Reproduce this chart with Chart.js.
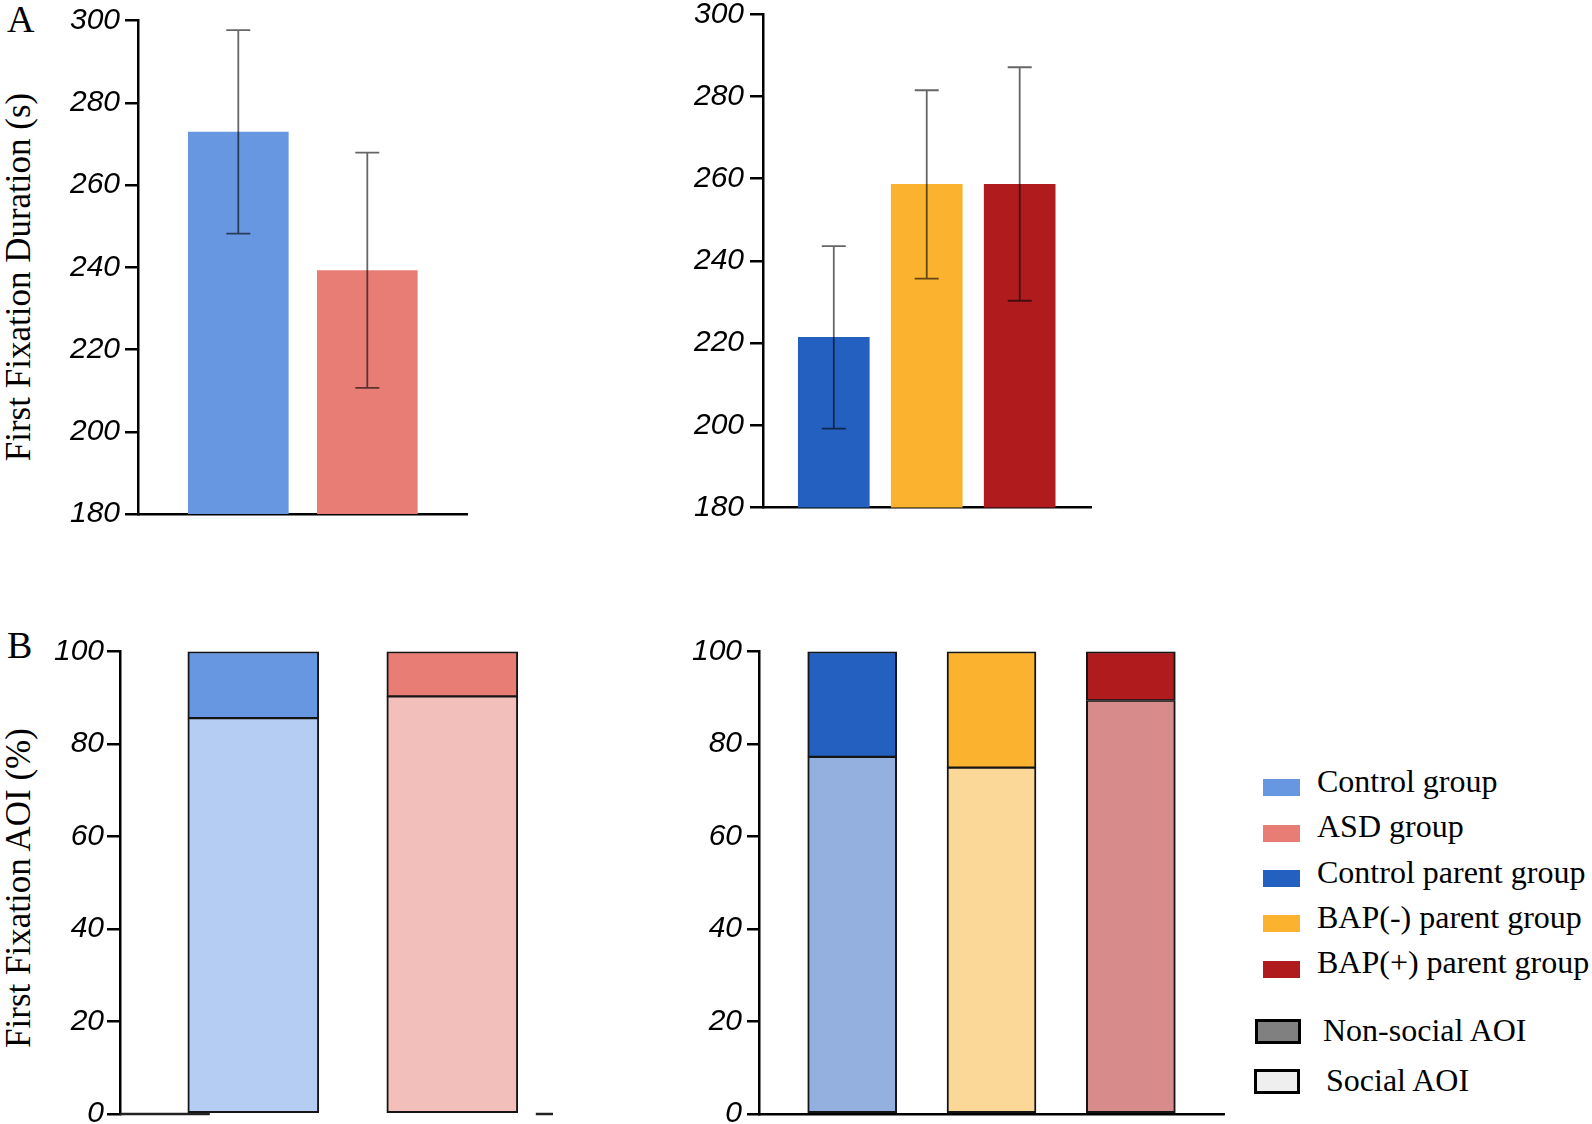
<!DOCTYPE html>
<html>
<head>
<meta charset="utf-8">
<script src="https://cdn.jsdelivr.net/npm/chart.js@4.4.1/dist/chart.umd.min.js"></script>
<style>
  html, body { margin: 0; padding: 0; background: #fff; }
  #page { position: relative; width: 1592px; height: 1124px; overflow: hidden; background: #fff; }
  canvas { position: absolute; }
  .serif { position: absolute; font-family: 'Liberation Serif', 'Times New Roman', serif; color: #000; white-space: nowrap; line-height: 1; }
  .ytitle { font-size: 35px; transform: translate(-50%, -50%) rotate(-90deg); }
  .panel { font-size: 38px; }
  .leg { font-size: 32px; }
  .sw { position: absolute; }
</style>
</head>
<body>
<div id="page">
  <div class="serif panel" style="left:7px; top:0px;">A</div>
  <div class="serif panel" style="left:7px; top:626px;">B</div>
  <div class="serif ytitle" style="left:18px; top:277px;">First Fixation Duration (s)</div>
  <div class="serif ytitle" style="left:18px; top:888px;">First Fixation AOI (%)</div>

  <canvas id="aLeft"  width="430" height="554" style="left:38px;  top:-10px;"></canvas>
  <canvas id="aRight" width="429" height="554" style="left:663px; top:-16px;"></canvas>
  <canvas id="bLeft"  width="533" height="523" style="left:20px;  top:621px;"></canvas>
  <canvas id="bRight" width="566" height="523" style="left:659px; top:621px;"></canvas>

  <div id="legend"></div>
</div>

<script>
// ---------------------------
// - data -
// ---------------------------
const groupsChild  = ['Control group', 'ASD group'];
const groupsParent = ['Control parent group', 'BAP(-) parent group', 'BAP(+) parent group'];

// A: first fixation duration (s), mean and error bar ends
const durChild     = [272.9, 239.2];
const durChildHi   = [297.7, 267.9];
const durChildLo   = [248.2, 210.7];
const durParent    = [221.4, 258.6, 258.6];
const durParentHi  = [243.6, 281.5, 287.1];
const durParentLo  = [199.2, 235.7, 230.3];

// B: first fixation AOI (%)
const socialChild     = [85.6, 90.3];
const nonSocialChild  = [14.4, 9.7];
const socialParent    = [77.2, 74.9, 89.4];
const nonSocialParent = [22.8, 25.1, 10.6];

const durTicks = { min: 180, max: 300, step: 20 };
const pctTicks = { min: 0, max: 100, step: 20 };

// colours
const darkChild   = ['#6897e2', '#e87d76'];
const lightChild  = ['#b5cdf3', '#f3bfbb'];
const darkParent  = ['#2360c0', '#fab22f', '#b01c1e'];
const lightParent = ['#93b0df', '#fcd898', '#d78b8b'];

// ------------
// - helpers  -
// ------------
const tickFont = { family: "'Liberation Sans', Arial, sans-serif", size: 30, style: 'italic' };

function pts(values) {
    return values.map(function (v, i) { return { x: i + 1, y: v }; });
}

function yScale(range, tickLen, pad) {
    return {
        min: range.min, max: range.max,
        afterFit: function (s) { s.width = 100; },
        ticks: { stepSize: range.step, font: tickFont, color: '#000', padding: pad },
        grid: { drawOnChartArea: false, drawTicks: true, tickLength: tickLen, color: '#000', lineWidth: 2.5 },
        border: { display: true, color: '#000', width: 2.5 }
    };
}

function xScale(min, max, showBorder, stacked) {
    return {
        type: 'linear', min: min, max: max, offset: false, stacked: stacked,
        afterFit: function (s) { s.height = 0; },
        ticks: { display: false },
        grid: { display: false, drawTicks: false },
        border: { display: showBorder, color: '#000', width: 2.5 }
    };
}

// draws mean +/- error using the y scale
const errorBars = {
    id: 'errorBars',
    afterDatasetsDraw(chart, args, opts) {
        if (!opts.hi) return;
        const ctx = chart.ctx, y = chart.scales.y;
        ctx.save();
        ctx.strokeStyle = 'rgba(0,0,0,0.6)';
        ctx.lineWidth = 1.8;
        chart.getDatasetMeta(0).data.forEach(function (bar, i) {
            const top = y.getPixelForValue(opts.hi[i]);
            const bot = y.getPixelForValue(opts.lo[i]);
            ctx.beginPath();
            ctx.moveTo(bar.x, top); ctx.lineTo(bar.x, bot);
            ctx.moveTo(bar.x - 12, top); ctx.lineTo(bar.x + 12, top);
            ctx.moveTo(bar.x - 12, bot); ctx.lineTo(bar.x + 12, bot);
            ctx.stroke();
        });
        ctx.restore();
    }
};

// the child panel in B has a broken baseline (gap between the bars)
const brokenBase = {
    id: 'brokenBase',
    afterDatasetsDraw(chart) {
        const ctx = chart.ctx, area = chart.chartArea;
        const bars = chart.getDatasetMeta(0).data;
        const first = bars[0], last = bars[bars.length - 1];
        ctx.save();
        ctx.strokeStyle = '#222';
        ctx.lineWidth = 2.5;
        ctx.beginPath();
        ctx.moveTo(area.left, area.bottom); ctx.lineTo(first.x - first.width / 2 + 22, area.bottom);
        ctx.moveTo(last.x + last.width / 2 + 18, area.bottom); ctx.lineTo(area.right, area.bottom);
        ctx.stroke();
        ctx.restore();
    }
};

const common = {
    responsive: false,
    animation: false,
    devicePixelRatio: 1,
    plugins: { legend: { display: false }, tooltip: { enabled: false } }
};

function durationChart(id, values, hi, lo, colors, xmin, xmax, thick, padTop, padBottom, tickLen, pad) {
    return new Chart(document.getElementById(id), {
        type: 'bar',
        data: {
            datasets: [{
                data: pts(values),
                backgroundColor: colors,
                borderWidth: 0,
                barThickness: thick
            }]
        },
        options: Object.assign({}, common, {
            layout: { padding: { top: padTop, bottom: padBottom, left: 0, right: 0 } },
            scales: { x: xScale(xmin, xmax, true, false), y: yScale(durTicks, tickLen, pad) },
            plugins: Object.assign({}, common.plugins, { errorBars: { hi: hi, lo: lo } })
        }),
        plugins: [errorBars]
    });
}

function aoiChart(id, social, nonSocial, light, dark, xmin, xmax, thick, fullBase, tickLen, pad) {
    return new Chart(document.getElementById(id), {
        type: 'bar',
        data: {
            datasets: [{
                label: 'Social AOI',
                data: pts(social),
                backgroundColor: light,
                borderColor: '#151515',
                borderWidth: { top: 1.5, left: 2, right: 2, bottom: 2 },
                borderSkipped: false,
                barThickness: thick
            }, {
                label: 'Non-social AOI',
                data: pts(nonSocial),
                backgroundColor: dark,
                borderColor: '#151515',
                borderWidth: { top: 2, left: 2, right: 2, bottom: 1.5 },
                borderSkipped: false,
                barThickness: thick
            }]
        },
        options: Object.assign({}, common, {
            layout: { padding: { top: 30.5, bottom: 30, left: 0, right: 0 } },
            scales: {
                x: xScale(xmin, xmax, fullBase, true),
                y: Object.assign(yScale(pctTicks, tickLen, pad), { stacked: true })
            }
        }),
        plugins: fullBase ? [] : [brokenBase]
    });
}

durationChart('aLeft',  durChild,  durChildHi,  durChildLo,  darkChild,  0.2225, 2.7806, 100, 30.7, 30,   13, 5);
durationChart('aRight', durParent, durParentHi, durParentLo, darkParent, 0.2383, 3.778,  71,  30.2, 30.5, 13, 6);
aoiChart('bLeft',  socialChild,  nonSocialChild,  lightChild,  darkChild,  0.3302, 2.506, 131, false, 13, 3);
aoiChart('bRight', socialParent, nonSocialParent, lightParent, darkParent, 0.331,  3.676, 89,  true,  12, 5);

// -------------------
// - legend (html)   -
// -------------------
const legendNames  = groupsChild.concat(groupsParent);
const legendColors = darkChild.concat(darkParent);
const legend = document.getElementById('legend');
let html = '';
legendNames.forEach(function (name, i) {
    const cy = 787.7 + 45.4 * i;
    html += '<div class="sw" style="left:1263px; top:' + (cy - 8.5) + 'px; width:37px; height:17px; background:' + legendColors[i] + ';"></div>';
    html += '<div class="serif leg" style="left:1317px; top:' + (cy - 23) + 'px;">' + name + '</div>';
});
html += '<div class="sw" style="left:1255px; top:1019px; width:40px; height:19px; background:#808080; border:3px solid #000;"></div>';
html += '<div class="serif leg" style="left:1323px; top:1014px;">Non-social AOI</div>';
html += '<div class="sw" style="left:1254px; top:1069px; width:40px; height:19px; background:#efefef; border:3px solid #000;"></div>';
html += '<div class="serif leg" style="left:1326px; top:1064px;">Social AOI</div>';
legend.innerHTML = html;
</script>
</body>
</html>
